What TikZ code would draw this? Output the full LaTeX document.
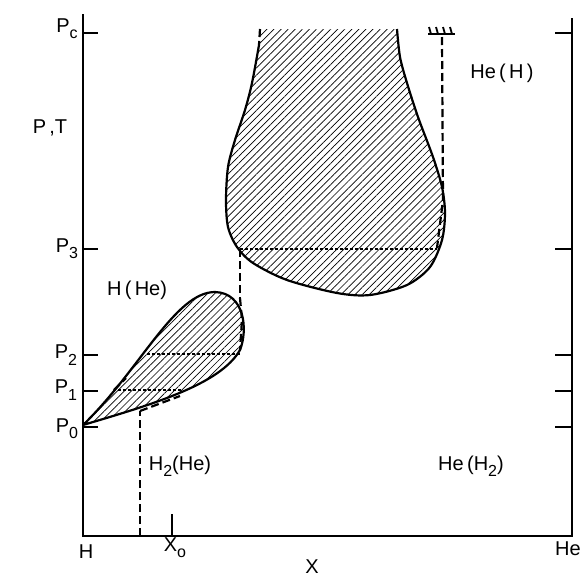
\documentclass[tikz,border=0pt]{standalone}
\usepackage{fontspec}
\setmainfont{Liberation Sans}
\usetikzlibrary{patterns.meta}
\newcommand{\lowsub}[1]{\raisebox{-0.6ex}{\fontsize{16}{16}\selectfont #1}}

\begin{document}
\begin{tikzpicture}[x=1pt, y=-1pt, font=\fontsize{20}{24}\selectfont,
    axisline/.style={line width=1.4pt},
    hatch/.style={pattern={Lines[angle=45, distance=5pt, line width=0.7pt]}},
    bound/.style={line width=2.2pt},
    phase/.style={line width=2.2pt, dash pattern=on 8pt off 4pt},
    tie/.style={line width=2.2pt, dash pattern=on 3pt off 2pt},
    lbl/.style={inner sep=0pt}]
  \useasboundingbox (0,0) rectangle (587,579);

  % axes
  \coordinate (tl) at (83,14);
  \coordinate (bl) at (83,536);
  \coordinate (br) at (572,536);
  \coordinate (tr) at (572,18);
  \draw[axisline] (tl) -- (bl) -- (br) -- (tr);
  \foreach \y in {33,249,355,391,427} {
    \draw[axisline] (83,\y) -- (98,\y);
    \draw[axisline] (555,\y) -- (572,\y);
  }
  \draw[axisline] (172,514) -- (172,536);

  % upper two-phase region
  \fill[hatch] (260,29) -- (259,45) -- plot[smooth] coordinates {(259,45) (252,83) (245,110)
      (235,140) (228,167) (226,200) (228,227) (237,247) (253,263) (287,280) (337,293)
      (370,295) (407,285) (430,267) (442,240) (445,213) (442,187) (433,157) (418,117)
      (407,83) (400,57) (397,29)} -- cycle;
  \draw[bound] plot[smooth] coordinates {(259,45) (252,83) (245,110)
      (235,140) (228,167) (226,200) (228,227) (237,247) (253,263) (287,280) (337,293)
      (370,295) (407,285) (430,267) (442,240) (445,213) (442,187) (433,157) (418,117)
      (407,83) (400,57) (397,29)};
  \draw[phase] (260,29) -- (259,45);

  % lower two-phase region
  \draw[bound, hatch] (83,425) .. controls (140,370) and (175,292) .. (215,292)
      .. controls (245,293) and (248,330) .. (240,350)
      .. controls (220,385) and (150,405) .. (83,425);

  % phase lines
  \draw[phase] (140,536) -- (140,411);
  \draw[phase] (240,249) -- (240,298);
  \draw[phase] (240,298) -- (242,320) -- (240,350);
  \draw[phase] (442,37) -- (443,200) -- (437,248);
  \draw[phase] (140,411) -- (180,396);
  \draw[phase] (114,390) -- (126,378);
  \draw[tie] (240,249) -- (437,249);
  \draw[tie] (147,354) -- (240,354);
  \draw[tie] (118,390) -- (182,390);

  % wall mark
  \draw[line width=2pt] (428,34) -- (455,34);
  \foreach \i in {0,1,2,3}
    \draw[line width=1.8pt] (431+7*\i,34) -- (429+7*\i,27);

  % labels
  \node[lbl] (pt) at (50,128) {P\,,T};
  \node[lbl] (pc) at (67,29) {P\lowsub{c}};
  \node[lbl] (p3) at (67,249) {P\lowsub{3}};
  \node[lbl] (p2) at (66,355) {P\lowsub{2}};
  \node[lbl] (p1) at (66,390) {P\lowsub{1}};
  \node[lbl] (p0) at (67,429) {P\lowsub{0}};
  \node[lbl] (h) at (86,552) {H};
  \node[lbl] (xo) at (175,548) {X\lowsub{o}};
  \node[lbl] (x) at (312,567) {X};
  \node[lbl] (he) at (568,549) {He};
  \node[lbl] (heh) at (502,73) {He\,(\,H\,)};
  \node[lbl] (hhe) at (137,290) {H\,(\,He)};
  \node[lbl] (h2he) at (180,466) {H\lowsub{2}(He)};
  \node[lbl] (heh2) at (471,466) {He\,(H\lowsub{2})};
\end{tikzpicture}
\end{document}
